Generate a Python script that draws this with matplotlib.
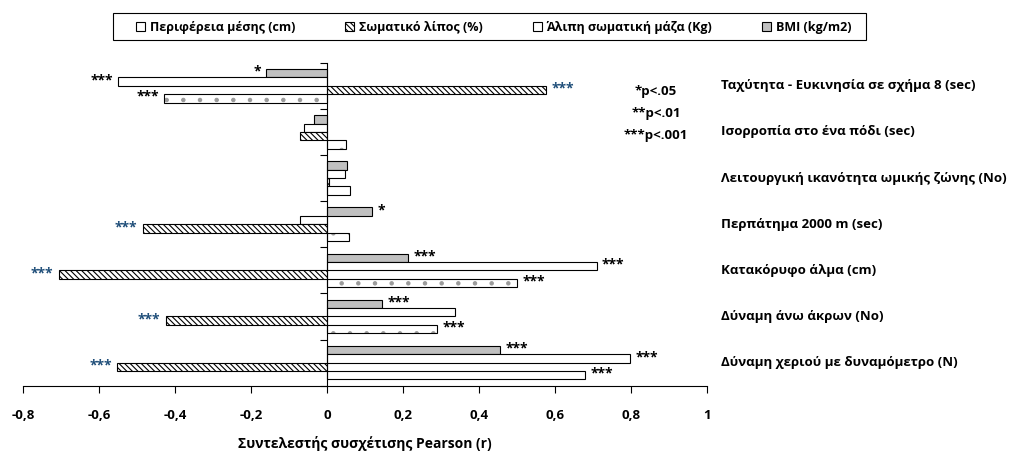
import matplotlib.pyplot as plt
import numpy as np
from matplotlib.patches import Rectangle
import matplotlib.transforms as mtransforms

plt.rcParams['font.family'] = ['Open Sans', 'DejaVu Sans']
plt.rcParams['hatch.linewidth'] = 0.8

categories = ['Ταχύτητα - Ευκινησία σε σχήμα 8 (sec)',
              'Ισορροπία στο ένα πόδι (sec)',
              'Λειτουργική ικανότητα ωμικής ζώνης (No)',
              'Περπάτημα 2000 m (sec)',
              'Κατακόρυφο άλμα (cm)',
              'Δύναμη άνω άκρων (No)',
              'Δύναμη χεριού με δυναμόμετρο (N)']

bmi = [-0.16, -0.035, 0.053, 0.119, 0.212, 0.145, 0.456]
lean = [-0.549, -0.061, 0.047, -0.07, 0.709, 0.337, 0.798]
fat = [0.577, -0.071, 0.005, -0.485, -0.706, -0.424, -0.552]
waist = [-0.428, 0.049, 0.06, 0.058, 0.50, 0.29, 0.679]

sig_bmi = ['*', '', '', '*', '***', '***', '***']
sig_lean = ['***', '', '', '', '***', '', '***']
sig_fat = ['***', '', '', '***', '***', '***', '***']
sig_waist = ['***', '', '', '', '***', '***', '***']

labels = ['BMI (kg/m2)', 'Άλιπη σωματική μάζα (Kg)', 'Σωματικό λίπος (%)', 'Περιφέρεια μέσης (cm)']

xticks = [-0.8, -0.6, -0.4, -0.2, 0, 0.2, 0.4, 0.6, 0.8, 1.0]
xticklabels = ['-0,8', '-0,6', '-0,4', '-0,2', '0', '0,2', '0,4', '0,6', '0,8', '1']

blue = '#1F4E79'

fig = plt.figure(figsize=(10.11, 4.54), dpi=100)
ax = fig.add_axes([0.0228, 0.1504, 0.6766, 0.7115])

y = np.arange(len(categories))
h = 0.182
series = [
    (bmi, sig_bmi, dict(color='#C0C0C0'), 'black', -1.5),
    (lean, sig_lean, dict(color='white'), 'black', -0.5),
    (fat, sig_fat, dict(color='white', hatch='\\\\\\\\\\\\'), blue, 0.5),
    (waist, sig_waist, dict(color='white', hatch='.'), 'black', 1.5),
]
handles = []
for (vals, sigs, style, scol, k), lab in zip(series, labels):
    if style.get('hatch') == '.':
        # light dots underneath, black outline on top
        ax.barh(y + k * h, vals, height=h, color='white', hatch='.',
                edgecolor='#9a9a9a', linewidth=0)
        bars = ax.barh(y + k * h, vals, height=h, fill=False, edgecolor='black',
                       linewidth=0.8, label=lab)
    else:
        bars = ax.barh(y + k * h, vals, height=h, edgecolor='black', linewidth=0.8,
                       label=lab, **style)
    handles.append(bars)
    for yy, v, s in zip(y + k * h, vals, sigs):
        if not s:
            continue
        off = 4 if v >= 0 else -4
        ax.annotate(s, (v, yy), xytext=(off, 1), textcoords='offset points',
                    ha='left' if v >= 0 else 'right', va='center',
                    fontsize=10, fontweight='bold', color=scol)

ax.set_xlim(-0.8, 1.0)
ax.set_ylim(6.5, -0.5)
ax.set_xticks(xticks)
ax.set_xticklabels(xticklabels, fontweight='bold', fontsize=9.5)
ax.set_yticks(np.arange(-0.5, 7, 1))
ax.set_yticklabels([])
ax.tick_params(axis='y', length=5, direction='out', width=0.8)
ax.tick_params(axis='x', length=5, direction='out', width=0.8, pad=12)
ax.spines['left'].set_position(('data', 0))
ax.spines['top'].set_visible(False)
ax.spines['right'].set_visible(False)
ax.set_xlabel('Συντελεστής συσχέτισης Pearson (r)', fontweight='bold', fontsize=10, labelpad=10)

trans = mtransforms.blended_transform_factory(ax.transAxes, ax.transData)
for yy, c in zip(y, categories):
    ax.text(1.021, yy, c, transform=trans, ha='left', va='center',
            fontsize=9.5, fontweight='bold')

fig.text(656 / 1011, 1 - 92 / 454, '*p<.05', ha='center', va='center', fontsize=9.5, fontweight='bold')
fig.text(656 / 1011, 1 - 113 / 454, '**p<.01', ha='center', va='center', fontsize=9.5, fontweight='bold')
fig.text(656 / 1011, 1 - 135 / 454, '***p<.001', ha='center', va='center', fontsize=9.5, fontweight='bold')

# legend frame drawn separately so it can be wider than the entries
fig.add_artist(Rectangle((113 / 1011, 1 - 40 / 454), 753 / 1011, 26.7 / 454,
                         transform=fig.transFigure, fill=False,
                         edgecolor='black', linewidth=0.8))
leg_handles = [handles[3], handles[2], handles[1], handles[0]]
leg_labels = [labels[3], labels[2], labels[1], labels[0]]
fig.legend(leg_handles, leg_labels, ncol=4, loc='center',
           bbox_to_anchor=(494 / 1011, 1 - 27 / 454),
           frameon=False, prop={'weight': 'bold', 'size': 9},
           handlelength=0.7, handleheight=0.7, handletextpad=0.4,
           columnspacing=4.0, borderpad=0.3)

fig.savefig('out.png', dpi=100)
